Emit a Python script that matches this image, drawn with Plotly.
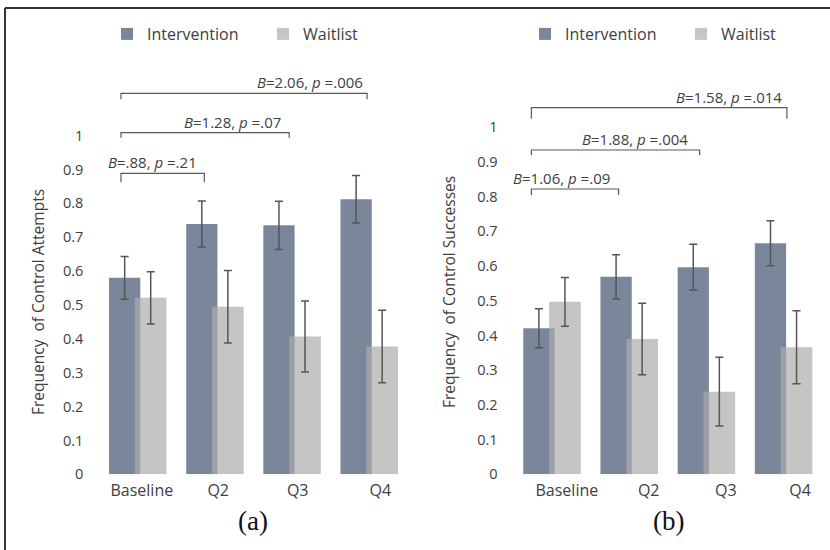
import plotly.graph_objects as go

categories = ["Baseline", "Q2", "Q3", "Q4"]
series_names = ["Intervention", "Waitlist"]

# Panel (a): Frequency of Control Attempts
attempts_intervention = [0.580, 0.739, 0.735, 0.812]
attempts_intervention_err = [0.063, 0.068, 0.071, 0.070]
attempts_waitlist = [0.521, 0.495, 0.407, 0.377]
attempts_waitlist_err = [0.077, 0.107, 0.105, 0.107]

# Panel (b): Frequency of Control Successes
successes_intervention = [0.421, 0.569, 0.597, 0.666]
successes_intervention_err = [0.056, 0.064, 0.066, 0.065]
successes_waitlist = [0.497, 0.390, 0.238, 0.366]
successes_waitlist_err = [0.070, 0.103, 0.099, 0.105]

y_tick_values = [0, 0.1, 0.2, 0.3, 0.4, 0.5, 0.6, 0.7, 0.8, 0.9, 1]
y_tick_labels = ["0", "0.1", "0.2", "0.3", "0.4", "0.5", "0.6", "0.7", "0.8", "0.9", "1"]

# Pairwise comparisons (Baseline vs. each later quarter)
attempts_comparisons = [
    ("Q2", "<i>B</i>=.88, <i>p</i> =.21"),
    ("Q3", "<i>B</i>=1.28, <i>p</i> =.07"),
    ("Q4", "<i>B</i>=2.06, <i>p</i> =.006"),
]
successes_comparisons = [
    ("Q2", "<i>B</i>=1.06, <i>p</i> =.09"),
    ("Q3", "<i>B</i>=1.88, <i>p</i> =.004"),
    ("Q4", "<i>B</i>=1.58, <i>p</i> =.014"),
]

y_titles = ["Frequency  of Control Attempts", "Frequency  of Control Successes"]
panel_labels = ["(a)", "(b)"]

# ---------------- styling / layout ----------------
W, H = 830, 550
FONT = "Open Sans"
TXT = "#404040"
C_INT = "#7a8699"
C_WAIT = "rgba(172,172,172,0.7)"
ERR = "#555555"

def px_x(p):
    return p / W

def px_y(p):
    return 1 - p / H

x_pos = list(range(len(categories)))

panels = [
    dict(xd=[99.4, 408.0], y0=474.3, ppu=338.7, xa="x", ya="y", legend="legend",
         vals=(attempts_intervention, attempts_intervention_err, attempts_waitlist, attempts_waitlist_err),
         comps=attempts_comparisons,
         tick_shift=[0.05, 0.04, 0.07, 0.14],
         br_start=-0.22, br_end_shift=[-0.14, -0.04, -0.03],
         br_y=[173.3, 132.7, 93.3], br_drop=[9, 5, 6],
         lab_dx=[-5, -6, -2],
         title_xy=(38, 302), label_xy=(253, 521), leg_x=107),
    dict(xd=[513.6, 822.4], y0=474.3, ppu=347.0, xa="x2", ya="y2", legend="legend2",
         vals=(successes_intervention, successes_intervention_err, successes_waitlist, successes_waitlist_err),
         comps=successes_comparisons,
         tick_shift=[0.19, 0.25, 0.25, 0.21],
         br_start=-0.27, br_end_shift=[-0.14, -0.09, 0.04],
         br_y=[189, 150, 107.7], br_drop=[6, 5, 11],
         lab_dx=[-7, -10, -3],
         title_xy=(449, 292), label_xy=(668, 521), leg_x=525),
]

TOP_PX = 60.0

fig = go.Figure()
shapes = []
annotations = []
layout_axes = {}

for i, p in enumerate(panels):
    vi, ei, vw, ew = p["vals"]
    fig.add_trace(go.Bar(
        x=x_pos, y=vi, name=series_names[0], xaxis=p["xa"], yaxis=p["ya"],
        legend=p["legend"],
        marker=dict(color=C_INT, line=dict(width=0)),
        width=0.405, offset=-0.375,
        error_y=dict(type="data", array=ei, visible=True, color=ERR, thickness=1.5, width=4),
    ))
    fig.add_trace(go.Bar(
        x=x_pos, y=vw, name=series_names[1], xaxis=p["xa"], yaxis=p["ya"],
        legend=p["legend"],
        marker=dict(color=C_WAIT, line=dict(width=0)),
        width=0.41, offset=-0.04,
        error_y=dict(type="data", array=ew, visible=True, color=ERR, thickness=1.5, width=4),
    ))

    ytop = (p["y0"] - TOP_PX) / p["ppu"]
    suffix = "" if i == 0 else "2"
    layout_axes["xaxis" + suffix] = dict(
        domain=[px_x(p["xd"][0]), px_x(p["xd"][1])], range=[-0.5, len(categories) - 0.5],
        tickvals=[x + s for x, s in zip(x_pos, p["tick_shift"])], ticktext=categories,
        showgrid=False, zeroline=False, showline=False, ticks="",
        tickfont=dict(family=FONT, size=16, color=TXT), ticklabelstandoff=5,
        anchor="y" + suffix, fixedrange=True,
    )
    layout_axes["yaxis" + suffix] = dict(
        domain=[px_y(p["y0"]), px_y(TOP_PX)], range=[0, ytop],
        tickvals=y_tick_values, ticktext=y_tick_labels,
        showgrid=False, zeroline=False, showline=False, ticks="",
        tickfont=dict(family=FONT, size=14.5, color=TXT), ticklabelstandoff=15,
        anchor="x" + suffix, fixedrange=True,
    )

    # comparison brackets
    for k, (cat, txt) in enumerate(p["comps"]):
        xe = categories.index(cat) + p["br_end_shift"][k]
        xs = p["br_start"]
        yb = (p["y0"] - p["br_y"][k]) / p["ppu"]
        yd = yb - p["br_drop"][k] / p["ppu"]
        shapes.append(dict(
            type="path", xref=p["xa"], yref=p["ya"],
            path=f"M {xs},{yd} L {xs},{yb} L {xe},{yb} L {xe},{yd}",
            line=dict(color="#595959", width=1.2),
        ))
        annotations.append(dict(
            x=xe, y=yb, xref=p["xa"], yref=p["ya"], text=txt, showarrow=False,
            xanchor="right", yanchor="middle", xshift=p["lab_dx"][k], yshift=11,
            font=dict(family=FONT, size=15, color=TXT),
        ))

    # y axis title
    tx, ty = p["title_xy"]
    annotations.append(dict(
        x=px_x(tx), y=px_y(ty), xref="paper", yref="paper", text=y_titles[i],
        textangle=-90, showarrow=False, xanchor="center", yanchor="middle",
        font=dict(family=FONT, size=15.5, color=TXT),
    ))
    # panel label
    lx, ly = p["label_xy"]
    annotations.append(dict(
        x=px_x(lx), y=px_y(ly), xref="paper", yref="paper", text=panel_labels[i],
        showarrow=False, xanchor="center", yanchor="middle",
        font=dict(family="Liberation Serif", size=27, color="#111111"),
    ))

# frame (left + top border)
shapes.append(dict(type="line", xref="paper", yref="paper",
                   x0=px_x(5), x1=px_x(5), y0=0, y1=px_y(8), line=dict(color="#333333", width=2)))
shapes.append(dict(type="line", xref="paper", yref="paper",
                   x0=px_x(5), x1=1, y0=px_y(8), y1=px_y(8), line=dict(color="#333333", width=2)))

legend_style = dict(orientation="h", yanchor="middle", xanchor="left",
                    font=dict(family=FONT, size=16, color=TXT),
                    bgcolor="rgba(0,0,0,0)", itemwidth=30, entrywidth=111, tracegroupgap=0,
                    itemclick=False, itemdoubleclick=False)

fig.update_layout(
    width=W, height=H, margin=dict(l=0, r=0, t=0, b=0, autoexpand=False),
    paper_bgcolor="white", plot_bgcolor="white",
    barmode="overlay",
    shapes=shapes, annotations=annotations,
    legend=dict(x=px_x(panels[0]["leg_x"]), y=px_y(34), **legend_style),
    legend2=dict(x=px_x(panels[1]["leg_x"]), y=px_y(34), **legend_style),
    **layout_axes,
)

fig.write_html("out.html", config={"displayModeBar": False},
               post_script="document.body.style.margin='0px';")
